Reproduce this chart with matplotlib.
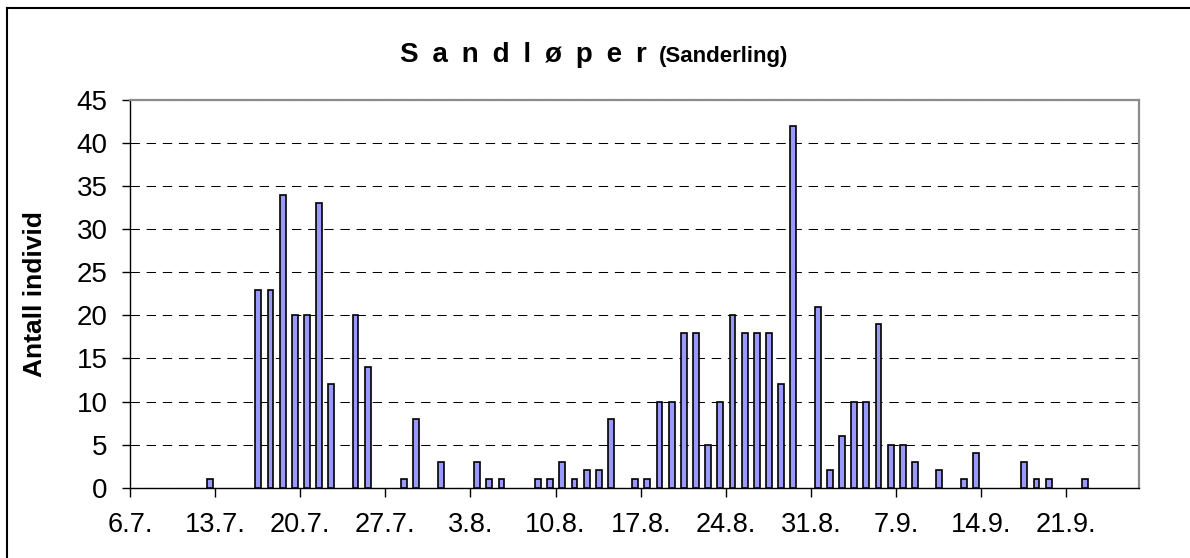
import datetime as dt
import matplotlib
matplotlib.use("Agg")
import matplotlib.pyplot as plt
import matplotlib.dates as mdates
from matplotlib.lines import Line2D
from matplotlib.ticker import FuncFormatter, MultipleLocator

# observation dates (day, month) and counts of Sanderling
days = [12,
        16, 17, 18, 19, 20, 21, 22,
        24, 25,
        28, 29,
        31,
        3, 4, 5,
        8, 9, 10, 11, 12, 13, 14,
        16, 17, 18, 19, 20, 21, 22, 23, 24, 25, 26, 27, 28, 29,
        31, 1, 2, 3, 4, 5, 6, 7, 8,
        10, 12, 13,
        17, 18, 19, 22]
months = [7,
          7, 7, 7, 7, 7, 7, 7,
          7, 7,
          7, 7,
          7,
          8, 8, 8,
          8, 8, 8, 8, 8, 8, 8,
          8, 8, 8, 8, 8, 8, 8, 8, 8, 8, 8, 8, 8, 8,
          8, 9, 9, 9, 9, 9, 9, 9, 9,
          9, 9, 9,
          9, 9, 9, 9]
counts = [1,
          23, 23, 34, 20, 20, 33, 12,
          20, 14,
          1, 8,
          3,
          3, 1, 1,
          1, 1, 3, 1, 2, 2, 8,
          1, 1, 10, 10, 18, 18, 5, 10, 20, 18, 18, 18, 12, 42,
          21, 2, 6, 10, 10, 19, 5, 5, 3,
          2, 1, 4,
          3, 1, 1, 1]

YEAR = 2000
start = dt.date(YEAR, 7, 6)
end = dt.date(YEAR, 9, 27)

title_main = "S a n d l ø p e r"
title_sub = "(Sanderling)"
ylabel = "Antall individ"

plt.rcParams['font.family'] = ['Liberation Sans', 'DejaVu Sans']

fig = plt.figure(figsize=(11.9, 5.58), dpi=100)
ax = fig.add_axes([130 / 1190, 1 - 487.7 / 558, 1009.3 / 1190, 387.7 / 558])

# bars sit in the middle of each day slot
x = [mdates.date2num(dt.date(YEAR, m, d)) + 0.55 for d, m in zip(days, months)]
ax.bar(x, counts, width=0.48, color="#9999FF", edgecolor="black",
       linewidth=1.2, zorder=3)

ax.set_xlim(mdates.date2num(start), mdates.date2num(end))
ax.set_ylim(0, 45)
ax.yaxis.set_major_locator(MultipleLocator(5))
tick_dates = [mdates.date2num(start + dt.timedelta(days=7 * k)) for k in range(12)]
ax.set_xticks(tick_dates)
ax.xaxis.set_major_formatter(FuncFormatter(
    lambda v, p: "{}.{}.".format(mdates.num2date(v).day, mdates.num2date(v).month)))

ax.set_axisbelow(True)
ax.yaxis.grid(True, color="black", linewidth=0.75, linestyle=(0, (9, 6.5)))

for s in ("top", "right"):
    ax.spines[s].set_color("#8c8c8c")
    ax.spines[s].set_linewidth(1.6)
for s in ("left", "bottom"):
    ax.spines[s].set_color("black")
    ax.spines[s].set_linewidth(1.0)

ax.tick_params(axis="y", direction="out", length=5.5, width=1, labelsize=20, pad=10.5)
ax.tick_params(axis="x", direction="out", length=6.5, width=1, labelsize=19.5, pad=11)

ax.set_ylabel(ylabel, fontsize=19, fontweight="bold")
ax.yaxis.set_label_coords(-0.082, 0.5)

# title: widely spaced letters, then the English name in smaller type
t = fig.text(400 / 1190, 1 - 62 / 558, title_main.replace(" ", "\u2002"),
             fontsize=20, fontweight="bold", ha="left", va="baseline")
fig.canvas.draw()
bb = t.get_window_extent()
fig.text((bb.x1 + 12) / 1190, 1 - 62 / 558, title_sub, fontsize=16, fontweight="bold",
         ha="left", va="baseline")

# chart area border (only top and left fall inside the image)
fig.add_artist(Line2D([7 / 1190, 7 / 1190], [0, 1 - 8 / 558], color="black",
                      linewidth=1.5, transform=fig.transFigure))
fig.add_artist(Line2D([7 / 1190, 1], [1 - 8 / 558, 1 - 8 / 558], color="black",
                      linewidth=1.5, transform=fig.transFigure))

fig.savefig("out.png", dpi=100)
